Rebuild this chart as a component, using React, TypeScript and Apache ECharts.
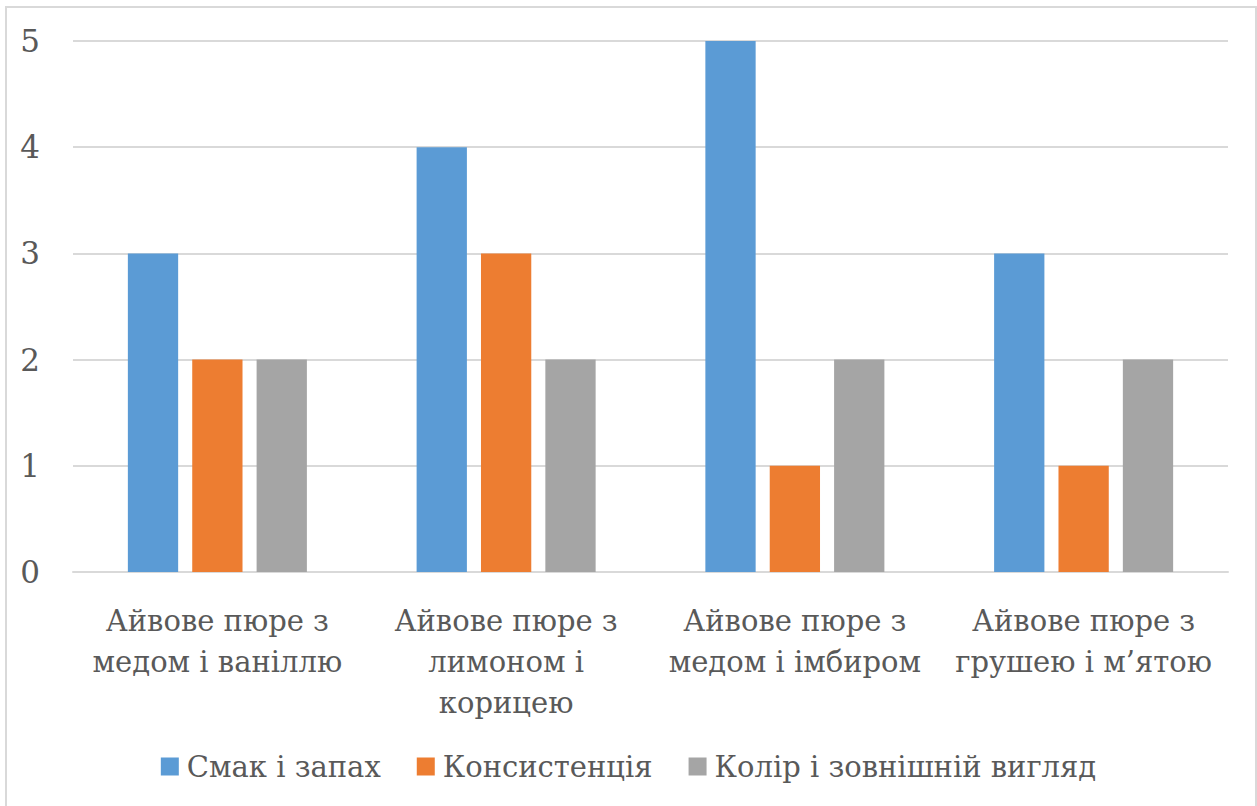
import React, { useEffect, useRef } from "react";
import * as echarts from "echarts";

const categories = [
  "Айвове пюре з\nмедом і ваніллю",
  "Айвове пюре з\nлимоном і\nкорицею",
  "Айвове пюре з\nмедом і імбиром",
  "Айвове пюре з\nгрушею і м’ятою",
];
const seriesNames = ["Смак і запах", "Консистенція", "Колір і зовнішній вигляд"];
const tasteSmell = [3, 4, 5, 3];
const consistency = [2, 3, 1, 1];
const colorLook = [2, 2, 2, 2];
const yTicks = [0, 1, 2, 3, 4, 5];

const FONT = "DejaVu Serif";
const FS = 29;
const TEXT = "#595959";

export default function App() {
  const ref = useRef<HTMLDivElement>(null);
  useEffect(() => {
    if (!ref.current) return;
    const chart = echarts.init(ref.current, null, { renderer: "svg" });
    const colors = ["#5B9BD5", "#ED7D31", "#A5A5A5"];
    const values = [tasteSmell, consistency, colorLook];
    chart.setOption({
      animation: false,
      backgroundColor: "#ffffff",
      graphic: [
        {
          type: "rect",
          shape: { x: 6, y: 7, width: 1250, height: 810 },
          style: { fill: "none", stroke: "#D9D9D9", lineWidth: 2 },
          silent: true,
        },
      ],
      grid: { left: 73, right: 29, top: 41, bottom: 806 - 572 },
      legend: {
        bottom: 20,
        left: "center",
        icon: "rect",
        itemWidth: 18,
        itemHeight: 18,
        itemGap: 36,
        textStyle: { fontFamily: FONT, fontSize: FS, color: TEXT, padding: [0, 0, 0, 3] },
        data: seriesNames,
      },
      xAxis: {
        type: "category",
        data: categories,
        axisTick: { show: false },
        axisLine: { lineStyle: { color: "#D9D9D9", width: 2 } },
        axisLabel: {
          interval: 0,
          margin: 28,
          fontFamily: FONT,
          fontSize: FS,
          lineHeight: 41,
          color: TEXT,
        },
      },
      yAxis: {
        type: "value",
        min: yTicks[0],
        max: yTicks[yTicks.length - 1],
        interval: 1,
        axisLine: { show: false },
        axisTick: { show: false },
        splitLine: { lineStyle: { color: "#D9D9D9", width: 2 } },
        axisLabel: { margin: 33, fontFamily: FONT, fontSize: 31, color: TEXT },
      },
      series: seriesNames.map((name, i) => ({
        name,
        type: "bar",
        data: values[i],
        barGap: "28%",
        barCategoryGap: "38%",
        itemStyle: { color: colors[i] },
      })),
    });
    return () => chart.dispose();
  }, []);
  return (
    <div
      ref={ref}
      style={{ position: "absolute", left: 0, top: 0, width: 1257, height: 806 }}
    />
  );
}
